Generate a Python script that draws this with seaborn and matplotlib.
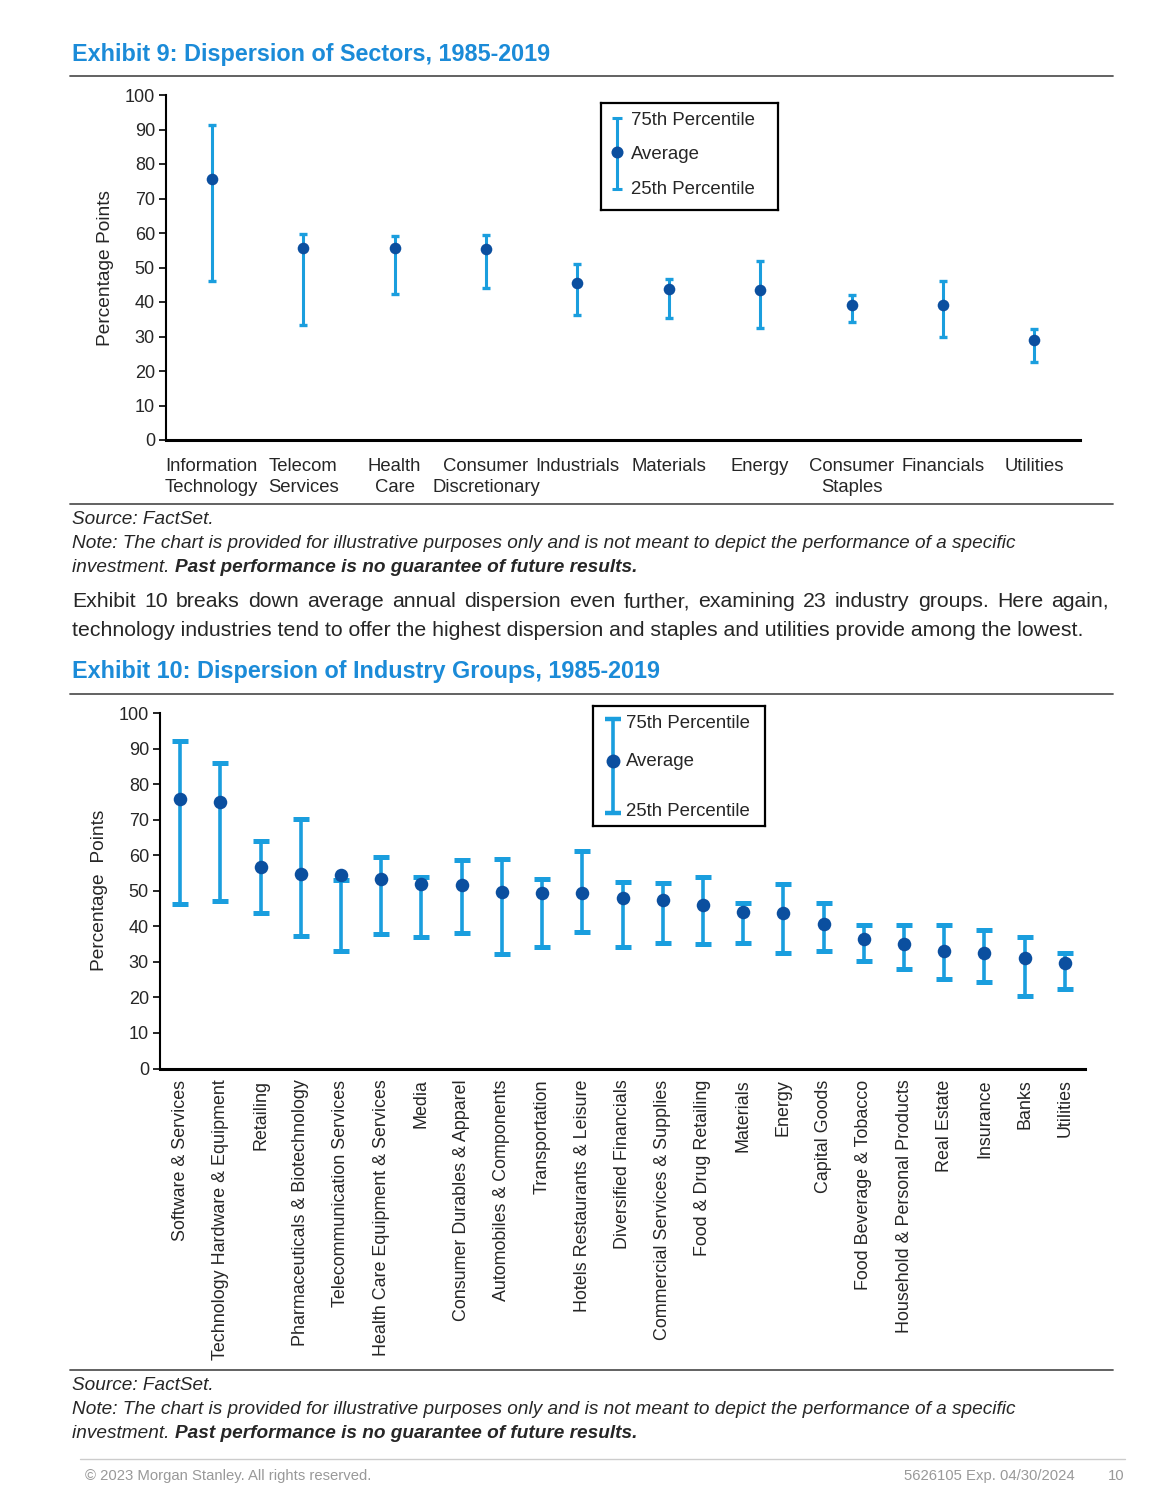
import numpy as np
import matplotlib
matplotlib.use("Agg")
import matplotlib.pyplot as plt
import seaborn as sns

sns.set_theme(style="ticks")
plt.rcParams['font.family'] = ['Liberation Sans', 'DejaVu Sans']

# Exhibit 9 - sectors
sectors = ["Information\nTechnology", "Telecom\nServices", "Health\nCare", "Consumer\nDiscretionary",
           "Industrials", "Materials", "Energy", "Consumer\nStaples", "Financials", "Utilities"]
sec_p75 = [91.2, 59.7, 59.0, 59.3, 51.0, 46.8, 51.9, 41.9, 46.1, 32.2]
sec_avg = [75.6, 55.6, 55.6, 55.3, 45.6, 43.9, 43.4, 39.1, 39.1, 29.1]
sec_p25 = [46.1, 33.3, 42.4, 44.0, 36.1, 35.4, 32.6, 34.1, 30.0, 22.7]

# Exhibit 10 - industry groups
groups = ["Software & Services", "Technology Hardware & Equipment", "Retailing",
          "Pharmaceuticals & Biotechnology", "Telecommunication Services",
          "Health Care Equipment & Services", "Media", "Consumer Durables & Apparel",
          "Automobiles & Components", "Transportation", "Hotels Restaurants & Leisure",
          "Diversified Financials", "Commercial Services & Supplies", "Food & Drug Retailing",
          "Materials", "Energy", "Capital Goods", "Food Beverage & Tobacco",
          "Household & Personal Products", "Real Estate", "Insurance", "Banks", "Utilities"]
grp_p75 = [92.1, 85.9, 64.1, 70.2, 53.1, 59.5, 53.8, 58.7, 59.0, 53.4, 61.3, 52.5,
           52.2, 54.0, 46.5, 51.9, 46.5, 40.5, 40.5, 40.5, 39.0, 37.1, 32.4]
grp_avg = [75.9, 75.0, 56.6, 54.8, 54.5, 53.3, 52.0, 51.7, 49.7, 49.5, 49.5, 47.9,
           47.3, 45.9, 44.1, 43.7, 40.6, 36.5, 34.9, 33.0, 32.6, 31.2, 29.7]
grp_p25 = [46.4, 47.0, 43.8, 37.2, 33.1, 37.8, 36.9, 38.1, 32.1, 34.1, 38.4, 34.3,
           35.3, 35.0, 35.3, 32.5, 33.1, 30.1, 28.1, 25.2, 24.2, 20.3, 22.4]

BAR_BLUE = "#1a9ede"
DOT_BLUE = "#0b4f9f"
TITLE_BLUE = "#1b8bd8"
W, H = 1170, 1506

fig = plt.figure(figsize=(W / 100, H / 100), dpi=100)
renderer = fig.canvas.get_renderer()


def fx(px):
    return px / W


def fy(py):
    return 1 - py / H


def range_plot(ax, p25, avg, p75, capsize, capthick, elw, dot_s, tick_fs):
    x = np.arange(len(avg))
    lo = np.array(p25)
    hi = np.array(p75)
    ax.errorbar(x, (lo + hi) / 2, yerr=(hi - lo) / 2, fmt="none", ecolor=BAR_BLUE,
                elinewidth=elw, capsize=capsize, capthick=capthick, zorder=2)
    sns.scatterplot(x=x, y=avg, ax=ax, color=DOT_BLUE, s=dot_s, linewidth=0, zorder=3, legend=False)
    ax.set_xlim(-0.5, len(avg) - 0.5)
    ax.set_ylim(0, 100)
    ax.set_yticks(range(0, 101, 10))
    ax.tick_params(axis="y", labelsize=tick_fs, length=5, width=1.2, color="black", pad=3)
    ax.tick_params(axis="x", length=0)
    sns.despine(ax=ax)
    ax.spines["left"].set_linewidth(1.5)
    ax.spines["bottom"].set_linewidth(2.2)
    ax.spines["left"].set_color("black")
    ax.spines["bottom"].set_color("black")


def range_legend(rect, xe, y_top, y_mid, y_bot, xt, texts_y, capsize, capthick, elw, dot_s):
    lg = fig.add_axes(rect)
    lg.set_xlim(0, 1)
    lg.set_ylim(0, 1)
    lg.set_xticks([])
    lg.set_yticks([])
    for s in lg.spines.values():
        s.set_color("black")
        s.set_linewidth(1.6)
    lg.errorbar([xe], [(y_top + y_bot) / 2], yerr=[(y_top - y_bot) / 2], fmt="none",
                ecolor=BAR_BLUE, elinewidth=elw, capsize=capsize, capthick=capthick)
    lg.scatter([xe], [y_mid], color=DOT_BLUE, s=dot_s, linewidth=0, zorder=3)
    for label, ty in zip(["75th Percentile", "Average", "25th Percentile"], texts_y):
        lg.text(xt, ty, label, fontsize=13.4, va="center", ha="left")


def hline(py, x0=70, x1=1113, color="#555555", lw=1.3):
    fig.add_artist(plt.Line2D([fx(x0), fx(x1)], [fy(py), fy(py)], color=color, lw=lw))


def notes(py_source):
    fs = 13.7
    fig.text(fx(72), fy(py_source), "Source: FactSet.", fontsize=fs, style="italic", va="center")
    fig.text(fx(72), fy(py_source + 24),
             "Note: The chart is provided for illustrative purposes only and is not meant to depict "
             "the performance of a specific", fontsize=fs, style="italic", va="center")
    t = fig.text(fx(72), fy(py_source + 48), "investment. ", fontsize=fs, style="italic", va="center")
    bb = t.get_window_extent(renderer=renderer)
    fig.text(bb.x1 / W, fy(py_source + 48), "Past performance is no guarantee of future results.",
             fontsize=fs, style="italic", weight="bold", va="center")


def justified(line, x0, x1, py_base, fs):
    # spread words over the full line width, all on one baseline
    words = line.split()
    arts = [fig.text(0, fy(py_base), w, fontsize=fs, va="baseline") for w in words]
    widths = [a.get_window_extent(renderer=renderer).width for a in arts]
    gap = (x1 - x0 - sum(widths)) / (len(words) - 1)
    x = x0
    for a, w in zip(arts, widths):
        a.set_x(fx(x))
        x += w + gap


# ---- Exhibit 9 ----
fig.text(fx(72), fy(54), "Exhibit 9: Dispersion of Sectors, 1985-2019", fontsize=16.8,
         weight="bold", color=TITLE_BLUE, va="center")
hline(76)
ax1 = fig.add_axes([fx(166), fy(440), fx(914), 345 / H])
range_plot(ax1, sec_p25, sec_avg, sec_p75, capsize=3.2, capthick=2.4, elw=2.2, dot_s=70, tick_fs=13)
ax1.set_xticks(np.arange(len(sectors)))
ax1.set_xticklabels(sectors, fontsize=13.3, linespacing=1.3)
ax1.tick_params(axis="x", pad=13)
ax1.set_ylabel("Percentage Points", fontsize=13.8, labelpad=8)
range_legend([fx(601), fy(209.7), fx(177), 107 / H], 0.09, 0.86, 0.542, 0.193, 0.168,
             [0.83, 0.52, 0.19], capsize=3.5, capthick=2.2, elw=2.2, dot_s=75)

hline(504)
notes(519)

para_fs = 15.3
justified("Exhibit 10 breaks down average annual dispersion even further, examining "
          "23 industry groups. Here again,", 72, 1109, 607, para_fs)
fig.text(fx(72), fy(636), "technology industries tend to offer the highest dispersion and staples "
         "and utilities provide among the lowest.", fontsize=para_fs, va="baseline")

# ---- Exhibit 10 ----
fig.text(fx(72), fy(671), "Exhibit 10: Dispersion of Industry Groups, 1985-2019", fontsize=16.8,
         weight="bold", color=TITLE_BLUE, va="center")
hline(694)
ax2 = fig.add_axes([fx(160), fy(1068.5), fx(925), 355.5 / H])
range_plot(ax2, grp_p25, grp_avg, grp_p75, capsize=6, capthick=3.6, elw=2.6, dot_s=95, tick_fs=13)
ax2.set_xticks(np.arange(len(groups)))
ax2.set_xticklabels(groups, fontsize=12.9, rotation=90)
ax2.tick_params(axis="x", pad=8)
ax2.set_ylabel("Percentage  Points", fontsize=13.8, labelpad=8)
range_legend([fx(593), fy(826), fx(172), 120.3 / H], 0.117, 0.887, 0.54, 0.106, 0.19,
             [0.85, 0.535, 0.12], capsize=6, capthick=3.2, elw=2.6, dot_s=100)

hline(1370)
notes(1385)

hline(1459, x0=80, x1=1125, color="#cccccc", lw=1.0)
fig.text(fx(85), fy(1476), "\u00a9 2023 Morgan Stanley. All rights reserved.", fontsize=10.7,
         color="#999999", va="center")
fig.text(fx(1075), fy(1476), "5626105 Exp. 04/30/2024", fontsize=10.7, color="#999999",
         va="center", ha="right")
fig.text(fx(1116), fy(1476), "10", fontsize=10.7, color="#999999", va="center", ha="center")

fig.savefig("out.png", dpi=100)
